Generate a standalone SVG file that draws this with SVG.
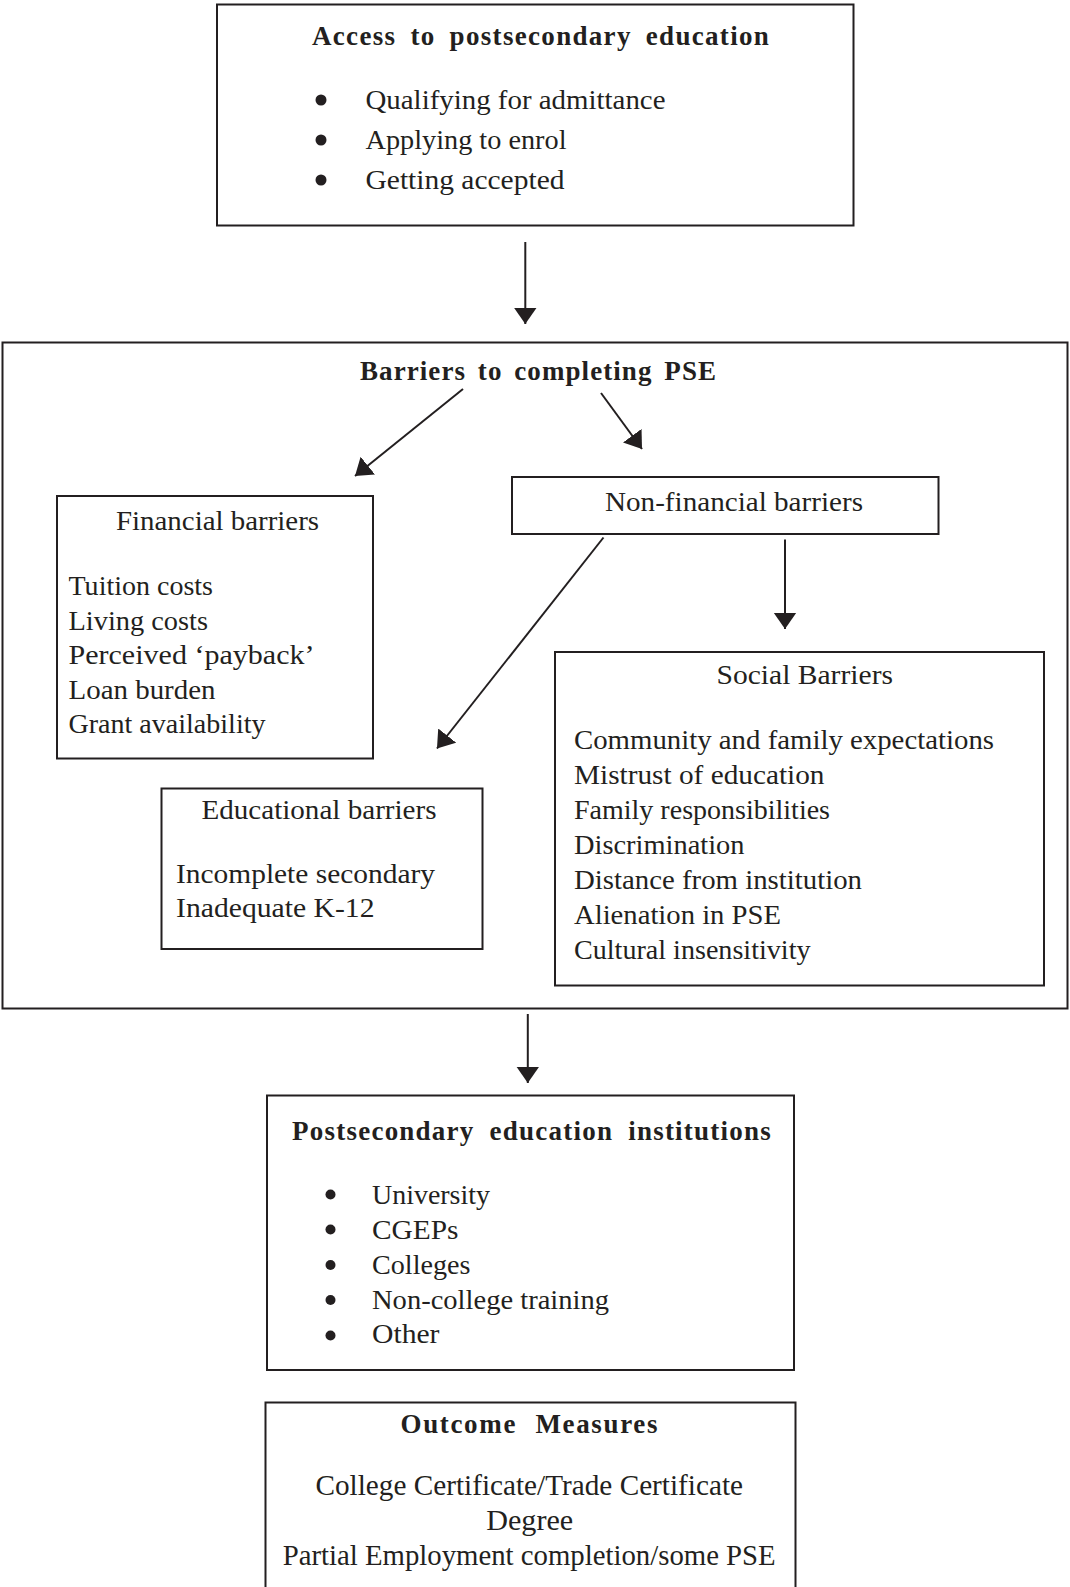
<svg xmlns="http://www.w3.org/2000/svg" width="1070" height="1587" viewBox="0 0 1070 1587">
<defs>
<marker id="ah" markerUnits="userSpaceOnUse" markerWidth="17" markerHeight="24" viewBox="0 0 17 24" refX="16.5" refY="12" orient="auto">
<path d="M0,0.5 L16.5,12 L0,23.5 z" fill="#231f20"/>
</marker>
<style>
.box{fill:#fff;stroke:#231f20;stroke-width:2}
.conn{stroke:#231f20;stroke-width:2;fill:none;marker-end:url(#ah)}
text{fill:#231f20;font-family:"Liberation Serif","Times New Roman",serif;font-size:28px}
.b{font-weight:bold;font-size:27px;letter-spacing:1.2px;word-spacing:6px}
.o{font-size:29px}
.dot{fill:#231f20}
</style>
</defs>
<rect width="1070" height="1587" fill="#fff"/>

<g id="access">
<rect class="box" x="217" y="4.5" width="636.5" height="221"/>
<text class="b" x="312" y="45" textLength="458" lengthAdjust="spacing">Access to postsecondary education</text>
<circle class="dot" cx="321" cy="100" r="5.5"/>
<circle class="dot" cx="321" cy="140" r="5.5"/>
<circle class="dot" cx="321" cy="180" r="5.5"/>
<text x="365.5" y="108.5" textLength="300" lengthAdjust="spacingAndGlyphs">Qualifying for admittance</text>
<text x="365.5" y="148.5" textLength="201" lengthAdjust="spacingAndGlyphs">Applying to enrol</text>
<text x="365.5" y="188.5" textLength="199" lengthAdjust="spacingAndGlyphs">Getting accepted</text>
</g>

<g id="barriers">
<rect class="box" x="2.5" y="342.5" width="1065" height="666"/>
<text class="b" x="360" y="379.5" textLength="357" lengthAdjust="spacing" style="letter-spacing:1px;word-spacing:4px">Barriers to completing PSE</text>
</g>

<g id="financial">
<rect class="box" x="57" y="496" width="316" height="262.5"/>
<text x="116" y="529.5" textLength="203" lengthAdjust="spacingAndGlyphs">Financial barriers</text>
<text x="68.5" y="595" textLength="144.5" lengthAdjust="spacingAndGlyphs">Tuition costs</text>
<text x="68.5" y="629.5" textLength="139.5" lengthAdjust="spacingAndGlyphs">Living costs</text>
<text x="68.5" y="664" textLength="246" lengthAdjust="spacingAndGlyphs">Perceived  ‘payback’</text>
<text x="68.5" y="698.5" textLength="147" lengthAdjust="spacingAndGlyphs">Loan burden</text>
<text x="68.5" y="733" textLength="197" lengthAdjust="spacingAndGlyphs">Grant availability</text>
</g>

<g id="nonfinancial">
<rect class="box" x="512" y="477" width="426.5" height="57"/>
<text x="605" y="510.5" textLength="258" lengthAdjust="spacingAndGlyphs">Non-financial barriers</text>
</g>

<g id="social">
<rect class="box" x="555" y="652" width="489" height="333.5"/>
<text x="716.5" y="683.5" textLength="176.5" lengthAdjust="spacingAndGlyphs">Social Barriers</text>
<text x="574" y="748.5" textLength="420" lengthAdjust="spacingAndGlyphs">Community and family expectations</text>
<text x="574" y="783.5" textLength="250.5" lengthAdjust="spacingAndGlyphs">Mistrust of education</text>
<text x="574" y="818.5" textLength="256" lengthAdjust="spacingAndGlyphs">Family responsibilities</text>
<text x="574" y="853.5" textLength="170.5" lengthAdjust="spacingAndGlyphs">Discrimination</text>
<text x="574" y="889" textLength="288" lengthAdjust="spacingAndGlyphs">Distance from institution</text>
<text x="574" y="924" textLength="207" lengthAdjust="spacingAndGlyphs">Alienation in PSE</text>
<text x="574" y="959" textLength="236.5" lengthAdjust="spacingAndGlyphs">Cultural insensitivity</text>
</g>

<g id="educational">
<rect class="box" x="161.5" y="788.5" width="321" height="160.5"/>
<text x="201.5" y="818.5" textLength="235" lengthAdjust="spacingAndGlyphs">Educational barriers</text>
<text x="176" y="883" textLength="259" lengthAdjust="spacingAndGlyphs">Incomplete secondary</text>
<text x="176" y="917" textLength="198.5" lengthAdjust="spacingAndGlyphs">Inadequate  K-12</text>
</g>

<g id="institutions">
<rect class="box" x="267" y="1095.5" width="527" height="274.5"/>
<text class="b" x="292" y="1139.5" textLength="480" lengthAdjust="spacing" style="word-spacing:7px">Postsecondary education institutions</text>
<circle class="dot" cx="330.5" cy="1194.5" r="5"/>
<circle class="dot" cx="330.5" cy="1229.5" r="5"/>
<circle class="dot" cx="330.5" cy="1265" r="5"/>
<circle class="dot" cx="330.5" cy="1300" r="5"/>
<circle class="dot" cx="330.5" cy="1335.5" r="5"/>
<text x="372" y="1204" textLength="118" lengthAdjust="spacingAndGlyphs">University</text>
<text x="372" y="1238.5" textLength="86.5" lengthAdjust="spacingAndGlyphs">CGEPs</text>
<text x="372" y="1273.5" textLength="98.5" lengthAdjust="spacingAndGlyphs">Colleges</text>
<text x="372" y="1308.5" textLength="237" lengthAdjust="spacingAndGlyphs">Non-college training</text>
<text x="372" y="1343" textLength="67.5" lengthAdjust="spacingAndGlyphs">Other</text>
</g>

<g id="outcome">
<rect class="box" x="265.5" y="1402.5" width="530" height="200"/>
<text class="b" x="400.5" y="1432.5" textLength="258.5" lengthAdjust="spacing" style="letter-spacing:1.5px;word-spacing:10px">Outcome Measures</text>
<text class="o" x="315.5" y="1494.5" textLength="427.5" lengthAdjust="spacingAndGlyphs">College Certificate/Trade Certificate</text>
<text class="o" x="486.2" y="1529.8" textLength="87" lengthAdjust="spacingAndGlyphs">Degree</text>
<text class="o" x="282.7" y="1565.3" textLength="493" lengthAdjust="spacingAndGlyphs">Partial Employment completion/some PSE</text>
</g>

<g id="connectors">
<line class="conn" x1="525.3" y1="242" x2="525.3" y2="324"/>
<line class="conn" x1="463" y1="389" x2="355" y2="476"/>
<line class="conn" x1="601" y1="393" x2="642" y2="449"/>
<line class="conn" x1="785" y1="539.5" x2="785" y2="629"/>
<line class="conn" x1="603.5" y1="537.5" x2="437" y2="748.5"/>
<line class="conn" x1="527.8" y1="1014" x2="527.8" y2="1083"/>
</g>
</svg>
